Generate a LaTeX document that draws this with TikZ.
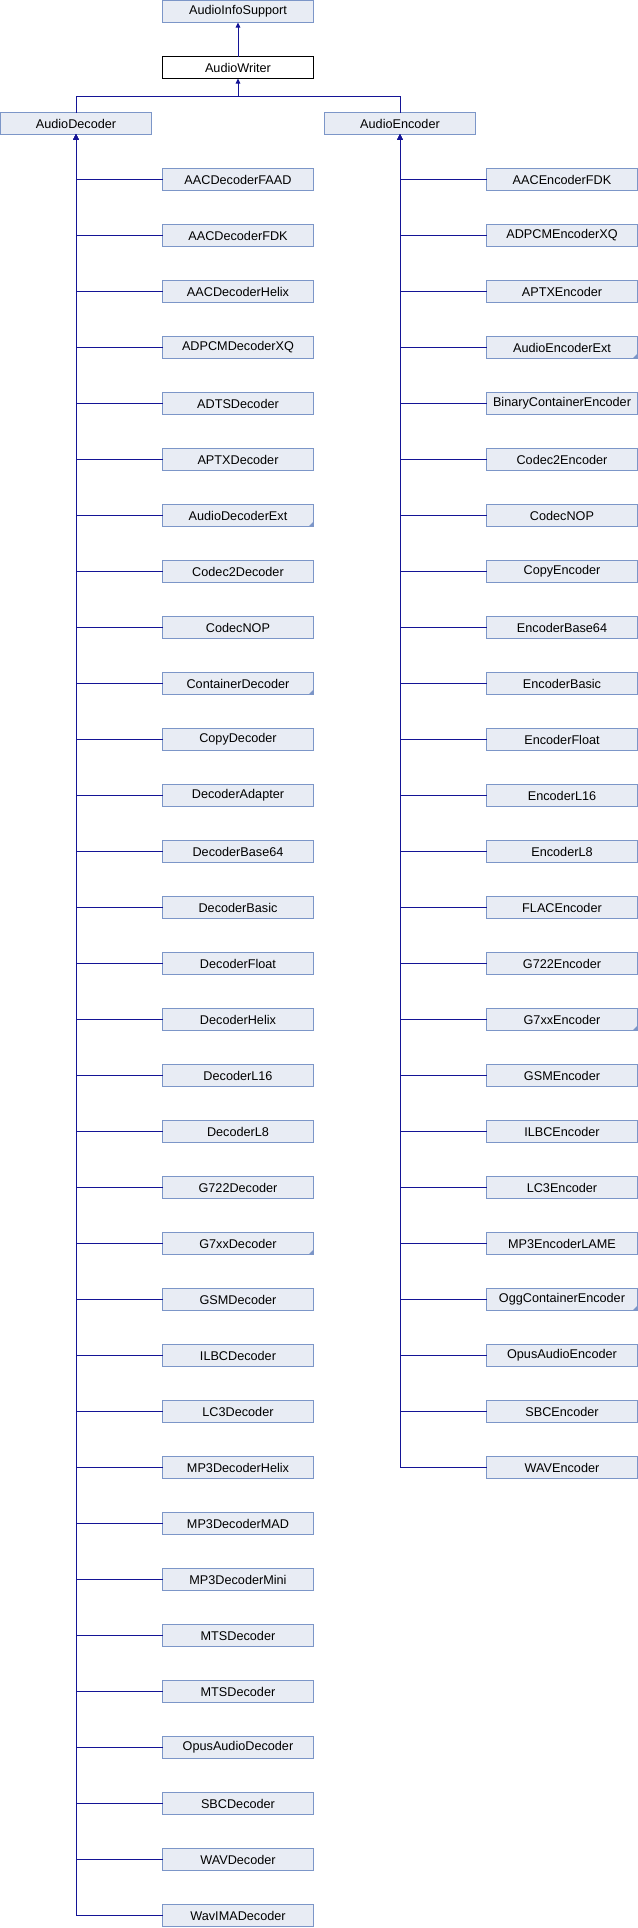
\documentclass[tikz,border=0pt]{standalone}
\usepackage{fontspec}
\setmainfont{Liberation Sans}
\usetikzlibrary{arrows.meta}
\definecolor{boxfill}{RGB}{232,236,244}
\definecolor{boxline}{RGB}{124,150,200}
\definecolor{edgecol}{RGB}{20,20,150}
\begin{document}
\begin{tikzpicture}[x=0.75pt,y=-0.75pt,
  cls/.style={draw=boxline, fill=boxfill, line width=0.75pt, minimum width=113.25pt,
    minimum height=16.5pt, inner sep=0pt, outer sep=0pt,
    font=\fontsize{9.5pt}{11pt}\selectfont},
  cur/.style={cls, draw=black, fill=white},
  edge/.style={draw=edgecol, line width=0.75pt, -{Triangle[width=3.4pt,length=3.75pt]}},
  plain/.style={draw=edgecol, line width=0.75pt}]
\useasboundingbox (0,0) rectangle (638,1928);
\node[cls] (ais) at (238,11.5) {AudioInfoSupport};
\node[cur] (aw) at (238,67.5) {AudioWriter};
\node[cls] (ad) at (76,123.5) {AudioDecoder};
\node[cls] (ae) at (400,123.5) {AudioEncoder};
\coordinate (jw) at (238,96.5);
\draw[edge] (aw.north) -- (ais.south);
\draw[plain] (ad.north) |- (jw);
\draw[plain] (ae.north) |- (jw);
\draw[edge] (jw) -- (aw.south);
\foreach \n [count=\i from 0] in {AACDecoderFAAD,AACDecoderFDK,AACDecoderHelix,ADPCMDecoderXQ,ADTSDecoder,APTXDecoder,AudioDecoderExt,Codec2Decoder,CodecNOP,ContainerDecoder,CopyDecoder,DecoderAdapter,DecoderBase64,DecoderBasic,DecoderFloat,DecoderHelix,DecoderL16,DecoderL8,G722Decoder,G7xxDecoder,GSMDecoder,ILBCDecoder,LC3Decoder,MP3DecoderHelix,MP3DecoderMAD,MP3DecoderMini,MTSDecoder,MTSDecoder,OpusAudioDecoder,SBCDecoder,WAVDecoder,WavIMADecoder} {
  \node[cls] (d\i) at (238,179.5+56*\i) {\n};
  \draw[edge] (d\i.west) -| (ad.south);
}
\foreach \n [count=\i from 0] in {AACEncoderFDK,ADPCMEncoderXQ,APTXEncoder,AudioEncoderExt,BinaryContainerEncoder,Codec2Encoder,CodecNOP,CopyEncoder,EncoderBase64,EncoderBasic,EncoderFloat,EncoderL16,EncoderL8,FLACEncoder,G722Encoder,G7xxEncoder,GSMEncoder,ILBCEncoder,LC3Encoder,MP3EncoderLAME,OggContainerEncoder,OpusAudioEncoder,SBCEncoder,WAVEncoder} {
  \node[cls] (e\i) at (562,179.5+56*\i) {\n};
  \draw[edge] (e\i.west) -| (ae.south);
}
\foreach \m in {d6,d9,d19,e3,e15,e20} {
  \fill[boxline] (\m.south east) -- ++(-5,0) -- ++(5,-5) -- cycle;
}
\end{tikzpicture}
\end{document}
